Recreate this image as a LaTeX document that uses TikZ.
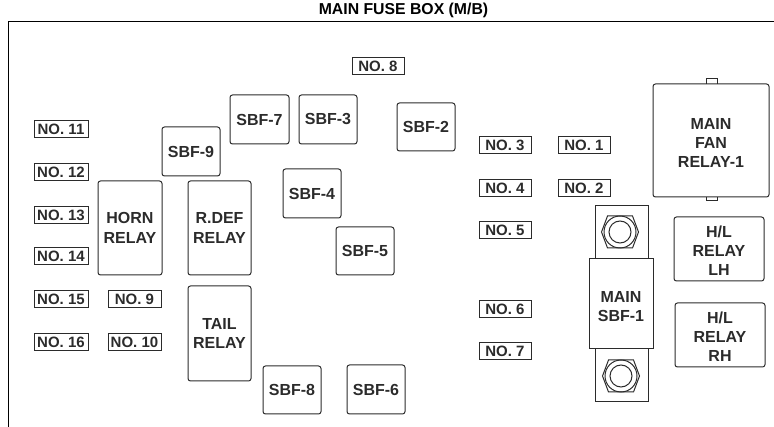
\documentclass[tikz,border=0pt]{standalone}
\usepackage{fontspec}
\setmainfont{Liberation Sans}
\definecolor{ink}{HTML}{2B2B2B}
\tikzset{
  x=1pt,y=-1pt,
  labelbox/.style={draw=ink,line width=1pt,inner sep=0pt,font=\fontsize{15}{15}\selectfont\bfseries,text=ink},
  unitbox/.style={draw=ink,line width=1pt,rounded corners=2.5pt,inner sep=0pt,align=center,font=\fontsize{16}{19.2}\selectfont\bfseries,text=ink},
  squarebox/.style={draw=ink,line width=1pt,inner sep=0pt,align=center,fill=white,font=\fontsize{16}{19.2}\selectfont\bfseries,text=ink},
  outline/.style={draw=ink,line width=1pt},
  frameline/.style={draw=black,line width=0.9pt},
  titletext/.style={inner sep=0pt,anchor=base,font=\fontsize{15.8}{16}\selectfont\bfseries,text=black}
}
% #1 name, #2 style, #3 x0, #4 y0, #5 x1, #6 y1, #7 text
\newcommand{\pxbox}[7]{%
  \pgfmathsetmacro{\bw}{#5-#3}\pgfmathsetmacro{\bh}{#6-#4}%
  \node[#2,minimum width=\bw pt,minimum height=\bh pt] (#1) at ({(#3+#5)/2},{(#4+#6)/2}) {#7};}
\newcommand{\nutshape}[3]{%
  \draw[outline,fill=white] (#2,#3) ++(18.5,0) -- ++(-6,-16) -- ++(-25,0) -- ++(-6,16) -- ++(6,16) -- ++(25,0) -- cycle;
  \draw[outline] (#2,#3) circle[radius=16pt];
  \draw[outline] (#2,#3) circle[radius=11pt];}
% taller first line: moves a stack of lines down by about 2px
\newcommand{\dn}{\rule{0pt}{15.5pt}}
\begin{document}
\begin{tikzpicture}
\useasboundingbox (0,0) rectangle (774,427);
\node[titletext] (title) at (403.5,15) {MAIN FUSE BOX (M/B)};
\coordinate (fa) at (8,427); \coordinate (fb) at (8,21); \coordinate (fc) at (774,21);
\draw[frameline] (fa) -- (fb) -- (fc);
% number labels
\pxbox{n8}{labelbox}{352}{58}{404}{75}{NO. 8}
\pxbox{n11}{labelbox}{34}{121}{88}{138}{NO. 11}
\pxbox{n12}{labelbox}{34}{164}{88}{181}{NO. 12}
\pxbox{n13}{labelbox}{34}{207}{88}{224}{NO. 13}
\pxbox{n14}{labelbox}{34}{248}{88}{265}{NO. 14}
\pxbox{n15}{labelbox}{34}{291}{88}{308}{NO. 15}
\pxbox{n16}{labelbox}{34}{334}{88}{351}{NO. 16}
\pxbox{n9}{labelbox}{108}{291}{161}{308}{NO. 9}
\pxbox{n10}{labelbox}{108}{334}{161}{351}{NO. 10}
\pxbox{n3}{labelbox}{479}{137}{531}{154}{NO. 3}
\pxbox{n1}{labelbox}{558}{137}{610}{154}{NO. 1}
\pxbox{n4}{labelbox}{479}{180}{531}{197}{NO. 4}
\pxbox{n2}{labelbox}{558}{180}{610}{197}{NO. 2}
\pxbox{n5}{labelbox}{479}{222}{531}{239}{NO. 5}
\pxbox{n6}{labelbox}{479}{301}{531}{318}{NO. 6}
\pxbox{n7}{labelbox}{479}{343}{531}{360}{NO. 7}
% fuses
\pxbox{s7}{unitbox}{230}{95}{289}{144}{SBF-7}
\pxbox{s3}{unitbox}{299}{95}{357}{144}{SBF-3}
\pxbox{s2}{unitbox}{397}{103}{455}{151}{SBF-2}
\pxbox{s9}{unitbox}{162}{127}{220}{176}{SBF-9}
\pxbox{s4}{unitbox}{283}{169}{341}{218}{SBF-4}
\pxbox{s5}{unitbox}{336}{227}{394}{275}{SBF-5}
\pxbox{s8}{unitbox}{263}{366}{321}{414}{SBF-8}
\pxbox{s6}{unitbox}{347}{365}{405}{414}{SBF-6}
% relays
\pxbox{horn}{unitbox}{98}{181}{162}{275}{HORN\\RELAY}
\pxbox{rdef}{unitbox}{188}{181}{251}{275}{R.DEF\\RELAY}
\pxbox{tail}{unitbox}{188}{286}{251}{381}{TAIL\\RELAY}
\draw[outline] (706,84) -- (706,79) -- (717,79) -- (717,84);
\draw[outline] (706,197) -- (706,201) -- (717,201) -- (717,197);
\pxbox{fan}{unitbox}{653}{84}{769}{197}{\dn MAIN\\FAN\\RELAY-1}
\pxbox{lh}{unitbox}{674}{217}{764}{281}{\dn H/L\\RELAY\\LH}
\pxbox{rh}{unitbox}{675}{303}{765}{367}{\dn H/L\\RELAY\\RH}
% main fuse
\pxbox{bracket}{outline,inner sep=0pt}{595}{206}{648}{402}{}
\nutshape{nuta}{620}{232}
\nutshape{nutb}{621}{376}
\pxbox{main}{squarebox}{589}{259}{653}{349}{\dn MAIN\\SBF-1}
\end{tikzpicture}
\end{document}
